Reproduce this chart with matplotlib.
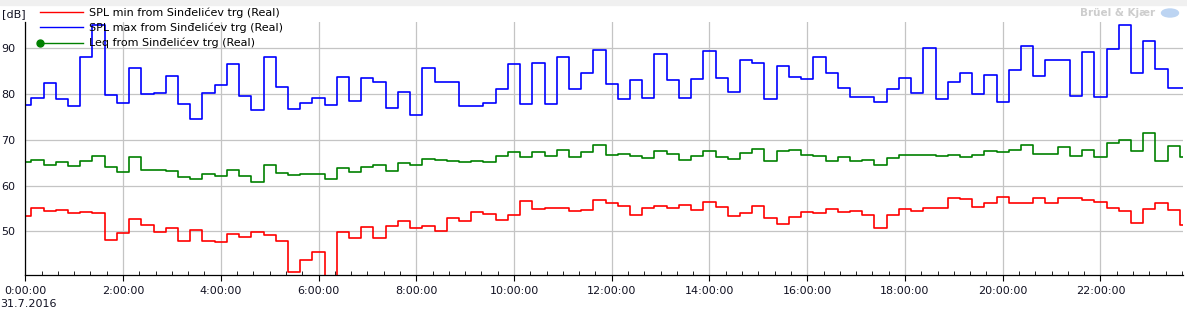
import matplotlib
matplotlib.use('Agg')
import matplotlib.pyplot as plt
import matplotlib.dates as mdates
from matplotlib.ticker import FuncFormatter
from matplotlib.lines import Line2D
from matplotlib.patches import Rectangle, Ellipse
import pandas as pd

# 15 minute values, 31.7.2016
times = pd.date_range('2016-07-31 00:00', periods=96, freq='15min')

spl_max = [77.6, 79.1, 82.4, 78.9, 77.4, 88.0, 95.2, 79.7, 78.0, 85.8, 80.0, 80.2,
           83.9, 77.8, 74.6, 80.2, 81.9, 86.5, 79.6, 76.6, 88.2, 81.5, 76.8, 78.0,
           79.1, 77.5, 83.7, 78.4, 83.5, 82.6, 76.9, 80.4, 75.4, 85.8, 82.6, 82.6,
           77.3, 77.3, 78.0, 81.1, 86.5, 77.8, 86.7, 77.8, 88.2, 81.0, 84.5, 89.6,
           82.3, 78.9, 83.0, 79.1, 88.7, 83.0, 79.1, 83.3, 89.4, 83.5, 80.4, 87.4,
           86.7, 78.9, 86.1, 83.7, 83.4, 88.0, 84.7, 81.3, 79.3, 79.3, 78.2, 81.0,
           83.6, 80.2, 90.0, 78.9, 82.6, 84.7, 80.0, 84.1, 78.2, 85.2, 90.6, 83.9,
           87.4, 87.4, 79.5, 89.3, 79.3, 89.8, 95.2, 84.7, 91.7, 85.4, 81.3, 81.3]

leq = [65.2, 65.5, 64.4, 65.1, 64.2, 65.4, 66.4, 64.0, 63.0, 66.2, 63.3, 63.5,
       63.2, 61.8, 61.4, 62.5, 62.1, 63.3, 62.0, 60.7, 64.6, 62.8, 62.2, 62.5,
       62.5, 61.4, 63.8, 62.9, 64.0, 64.4, 63.1, 64.9, 64.4, 65.7, 65.5, 65.4,
       65.2, 65.4, 65.2, 66.4, 67.3, 66.2, 67.3, 66.4, 67.7, 66.2, 67.3, 68.8,
       66.6, 66.8, 66.4, 66.0, 67.5, 66.9, 65.5, 66.4, 67.5, 66.2, 65.7, 67.1,
       67.9, 65.4, 67.5, 67.7, 66.6, 66.4, 65.3, 66.2, 65.3, 65.5, 64.6, 66.0,
       66.6, 66.6, 66.6, 66.4, 66.6, 66.2, 66.6, 67.5, 67.3, 67.7, 68.8, 67.0,
       66.8, 68.4, 66.4, 67.7, 66.2, 69.2, 69.9, 67.5, 71.4, 65.3, 68.6, 66.2]

spl_min = [53.3, 55.0, 54.4, 54.6, 53.9, 54.2, 53.9, 48.2, 49.6, 52.7, 51.3, 49.9,
           50.7, 47.9, 50.2, 47.8, 47.6, 49.4, 48.8, 49.8, 49.1, 47.8, 41.2, 43.7,
           45.4, 38.0, 49.8, 48.6, 50.9, 48.6, 51.1, 52.2, 50.8, 51.1, 50.0, 52.8,
           52.2, 54.2, 53.7, 52.4, 53.5, 56.6, 54.8, 55.0, 55.0, 54.4, 54.6, 56.8,
           56.1, 55.6, 53.5, 55.2, 55.6, 55.2, 55.8, 54.6, 56.3, 55.4, 53.3, 53.9,
           55.6, 52.9, 51.5, 53.2, 54.2, 53.9, 54.8, 54.2, 54.4, 53.5, 50.7, 53.5,
           54.8, 54.4, 55.2, 55.0, 57.2, 57.0, 55.4, 56.1, 57.4, 56.1, 56.1, 57.2,
           56.1, 57.2, 57.2, 56.8, 56.5, 55.2, 54.4, 51.8, 54.8, 56.1, 54.6, 51.3]

labels = ['SPL min from Sinđelićev trg (Real)',
          'SPL max from Sinđelićev trg (Real)',
          'Leq from Sinđelićev trg (Real)']
y_ticks = [50, 60, 70, 80, 90]

W, H = 1187, 312
fig = plt.figure(figsize=(W / 100, H / 100), dpi=100)
fig.patches.append(Rectangle((0, 1 - 5 / H), 1, 5 / H, transform=fig.transFigure,
                             color='#f0f0f0', zorder=0))

ax = fig.add_axes([25.3 / W, 37 / H, 1157.4 / W, 253 / H])
ax.step(times, spl_min, where='mid', color='#ff0000', lw=1.2)
ax.step(times, spl_max, where='mid', color='#0000ff', lw=1.2)
ax.step(times, leq, where='mid', color='#008000', lw=1.2)

ax.set_xlim(times[0], pd.Timestamp('2016-07-31 23:41'))
ax.set_ylim(40.45, 95.75)
ax.set_yticks(y_ticks)

ax.xaxis.set_major_locator(mdates.HourLocator(byhour=range(0, 24, 2)))
ax.xaxis.set_minor_locator(mdates.MinuteLocator(byminute=[0, 20, 40]))
ax.xaxis.set_major_formatter(FuncFormatter(lambda x, p: f'{mdates.num2date(x).hour}:00:00'))

ax.set_axisbelow(True)
ax.grid(True, which='major', color='#c4c4c4', lw=0.9)
for s in ['top', 'right']:
    ax.spines[s].set_visible(False)
for s in ['left', 'bottom']:
    ax.spines[s].set_linewidth(0.9)

ax.tick_params(axis='y', length=0, pad=7, labelsize=8, labelcolor='#111122')
ax.tick_params(axis='x', which='major', length=4, direction='out', pad=4,
               labelsize=8, labelcolor='#111122')
ax.tick_params(axis='x', which='minor', length=3, direction='in')

h_min = Line2D([], [], color='#ff0000', lw=1)
h_max = Line2D([], [], color='#0000ff', lw=1)
h_leq = Line2D([], [], color='#008000', lw=1, marker='o', markersize=5)
leg = fig.legend([h_min, h_max, h_leq], labels, loc='upper left',
                 bbox_to_anchor=(40 / W, 1 - 7 / H), frameon=False, fontsize=8,
                 handlelength=3.9, handletextpad=0.55, labelspacing=0.45,
                 borderpad=0, borderaxespad=0, numpoints=1)
# Leq marker sits at the left end of its legend line
leg.get_lines()[2].set_markevery([0])

fig.text(2 / W, 1 - 14 / H, '[dB]', va='center', ha='left', fontsize=8, color='#111122')
fig.text(0, 1 - 304 / H, '31.7.2016', va='center', ha='left', fontsize=8, color='#111122')

# Brüel & Kjær logo
fig.text(1155 / W, 1 - 13 / H, 'Brüel & Kjær', va='center', ha='right', fontsize=7.5,
         weight='bold', color='#cdcdcd')
fig.patches.append(Ellipse((1170 / W, 1 - 13 / H), 17 / W, 8 / H,
                           transform=fig.transFigure, color='#bcd4f2'))

fig.savefig('out.png', dpi=100)
